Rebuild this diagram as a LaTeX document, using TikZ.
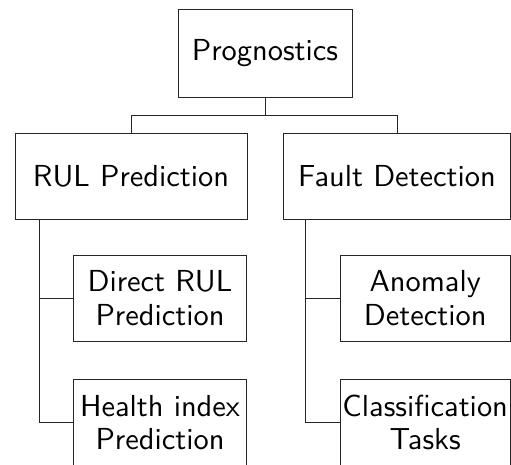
\documentclass[tikz,border=0pt]{standalone}
\usepackage{fontspec}
\newfontfamily\lmsten{lmsans10-regular.otf}
\begin{document}
\begin{tikzpicture}[x=1pt,y=-1pt,
  box/.style={draw=black!85, line width=0.9pt, inner sep=0pt, align=center,
    font=\lmsten\fontsize{30.4}{33.5}\selectfont},
  link/.style={draw=black!85, line width=0.9pt}]
\useasboundingbox (0,0) rectangle (511,464);
\node[box, minimum width=174pt, minimum height=88pt] (prog) at (265,53.4) {Prognostics};
\node[box, minimum width=232pt, minimum height=86.5pt] (rul) at (131,176.2) {RUL Prediction};
\node[box, minimum width=227pt, minimum height=86.5pt] (fault) at (397,176.2) {Fault Detection};
\node[box, minimum width=173.4pt, minimum height=86.7pt] (direct) at (160,298.3) {Direct RUL\\Prediction};
\node[box, minimum width=173.4pt, minimum height=87pt] (health) at (160,422.5) {Health index\\Prediction};
\node[box, minimum width=170.5pt, minimum height=86.7pt] (anom) at (425.2,298.3) {Anomaly\\Detection};
\node[box, minimum width=170.5pt, minimum height=87pt] (class) at (425.2,422.5) {Classification\\Tasks};
\coordinate (bus) at (265,115);
\coordinate (lsp) at (39.5,219);
\coordinate (rsp) at (305.7,219);
\draw[link] (prog.south) -- (bus);
\draw[link] (bus) -| (rul.north);
\draw[link] (bus) -| (fault.north);
\draw[link] (rul.south -| lsp) |- (direct.west);
\draw[link] (rul.south -| lsp) |- (health.west);
\draw[link] (fault.south -| rsp) |- (anom.west);
\draw[link] (fault.south -| rsp) |- (class.west);
\end{tikzpicture}
\end{document}
